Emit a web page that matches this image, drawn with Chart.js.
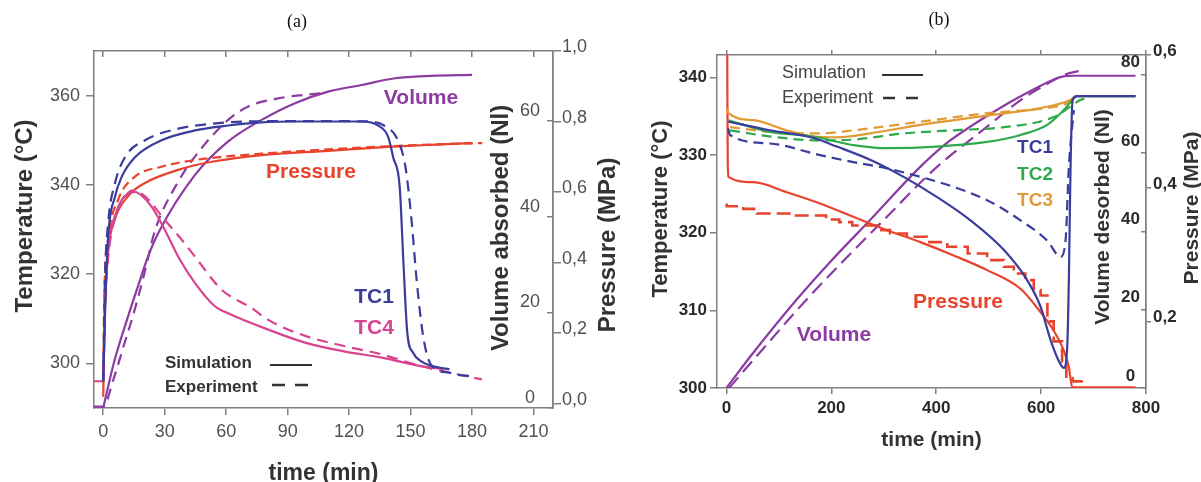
<!DOCTYPE html>
<html>
<head>
<meta charset="utf-8">
<script src="https://cdn.jsdelivr.net/npm/chart.js@4.4.1/dist/chart.umd.min.js"></script>
<style>
    html, body { margin: 0; padding: 0; background: #fff; }
    #wrap { position: relative; width: 1201px; height: 482px; overflow: hidden; }
    canvas { position: absolute; top: 0; }
    #chartA { left: 0; }
    #chartB { left: 625px; }
</style>
</head>
<body>
<div id="wrap">
    <canvas id="chartA" width="625" height="482"></canvas>
    <canvas id="chartB" width="576" height="482"></canvas>
</div>
<script>
// ---- (a) absorption: time in min, temperature in °C, volume in Nl, pressure in MPa
const aTimeTicks = [0, 30, 60, 90, 120, 150, 180, 210];
const aTempTicks = [300, 320, 340, 360];
const aVolTicks = [0, 20, 40, 60];
const aPresTicks = [0, 0.2, 0.4, 0.6, 0.8, 1.0];

const aTc1SimTime = [0, 1, 2.4, 5.7, 9, 15.5, 28.5, 44.8, 61, 77.3, 93.6, 110, 126, 134.2, 139.1, 141.5, 144.7, 146.6, 148.4, 151.2, 155, 160.6, 169];
const aTc1SimTemp = [296, 313, 328.4, 337.3, 341.8, 346.2, 350, 352.2, 353.3, 354, 354.2, 354.2, 354.2, 353.3, 350.7, 346.2, 339.5, 321.7, 306.8, 302.4, 300.5, 299.4, 298.7];
const aTc1ExpTime = [0, 0.8, 2.4, 5.7, 10.6, 20.4, 36.6, 52.9, 70, 100, 130, 137, 143.8, 147.5, 150.3, 153.1, 155.9, 158.7, 162.4, 169, 175, 181];
const aTc1ExpTemp = [296, 318, 331.4, 340.3, 346.2, 350, 352.6, 353.7, 354.2, 354.3, 354.2, 353.3, 350, 344, 332.9, 318, 306.8, 300.9, 298.7, 297.9, 297.3, 297.2];
const aTc4SimTime = [0, 1, 2.4, 5.7, 9, 12, 15.5, 19, 23.6, 30.1, 36.6, 44.8, 54.5, 62, 80.3, 98.9, 117.5, 136, 155, 166];
const aTc4SimTemp = [296, 315, 326, 333, 336.6, 338, 338.4, 337.5, 335.1, 329.9, 323.9, 318, 312.8, 311, 307.6, 304.6, 302.7, 301.3, 299.4, 298.7];
const aTc4ExpTime = [-4.5, 0, 0.8, 3, 6, 10, 14, 20, 30.1, 38.3, 44.8, 57.8, 72.4, 80.3, 98.9, 117.5, 136, 155, 173.6, 184.8];
const aTc4ExpTemp = [296, 296, 312, 326, 333, 336.8, 338.7, 337.6, 332.1, 327.7, 323.9, 316.5, 312.4, 309.8, 306.1, 303.9, 302, 299.4, 297.5, 296.4];
const aPresSimTime = [0, 0.4, 0.8, 2.4, 5.7, 12.2, 20.4, 36.6, 52.9, 77.3, 109.8, 139.1, 160, 180];
const aPresSimVal = [0.02, 0.15, 0.263, 0.43, 0.523, 0.589, 0.626, 0.663, 0.686, 0.705, 0.717, 0.728, 0.734, 0.739];
const aPresExpTime = [0, 0.5, 2.4, 7.3, 15.5, 28.5, 44.8, 77.3, 109.8, 139.1, 165, 185];
const aPresExpVal = [0.06, 0.3, 0.467, 0.579, 0.644, 0.672, 0.691, 0.709, 0.721, 0.73, 0.736, 0.739];
const aVolSimTime = [0, 5.3, 12.4, 17.4, 21.5, 26.8, 44.8, 61, 77.3, 93.6, 109.8, 126.1, 142.4, 160, 180];
const aVolSimVal = [0, 9.6, 19.5, 26, 31.2, 36.5, 48.7, 55.7, 60.2, 63.7, 66.1, 67.5, 68.9, 69.4, 69.6];
const aVolExpTime = [-4.5, 0, 5, 10, 15, 20, 25.2, 36.6, 48, 61, 70.8, 85.4, 106.6];
const aVolExpVal = [0.3, 0.3, 6, 13, 20, 28, 37, 47.3, 54.3, 60.2, 63, 64.7, 65.8];

// ---- (b) desorption
const bTimeTicks = [0, 200, 400, 600, 800];
const bTempTicks = [300, 310, 320, 330, 340];
const bVolTicks = [0, 20, 40, 60, 80];
const bPresTicks = [0.2, 0.4, 0.6];

const bTc1SimTime = [3.7, 83, 166, 210.6, 274, 337.8, 401.6, 465.3, 528.8, 573.4, 598.8, 617.9, 635, 643.3, 649.8, 652.9, 656, 660, 668, 780];
const bTc1SimTemp = [334.3, 333.2, 332.2, 331.1, 329.4, 327.2, 324.6, 321.6, 317.8, 313.9, 310.5, 306.2, 303.3, 302.6, 305.3, 313.9, 328, 337.1, 337.6, 337.6];
const bTc1ExpTime = [3, 6.9, 83, 178.7, 242, 306, 369.7, 433.3, 497, 560.6, 611.6, 637, 646.6, 652.9, 662.4];
const bTc1ExpTemp = [333.5, 332.6, 331.5, 330, 329.1, 328.3, 327.2, 325.9, 324.2, 321.6, 319, 316.9, 319, 328.5, 335.8];
const bTc2SimTime = [3.7, 83, 166, 242, 306, 401.6, 497, 560.6, 611.6, 643.3, 659.4, 668, 780];
const bTc2SimTemp = [334.5, 333, 332.4, 331.3, 330.9, 331.1, 331.7, 332.6, 333.9, 335.8, 337.1, 337.6, 337.6];
const bTc2ExpTime = [6.9, 83, 178.7, 242, 337.8, 433.3, 528.8, 624, 675, 683];
const bTc2ExpTemp = [333.2, 332.4, 331.9, 332, 332.8, 333.2, 333.6, 334.9, 337.1, 337.3];
const bTc3SimTime = [2, 3.7, 51.4, 115, 166, 210.6, 274, 369.7, 497, 592.5, 656, 668, 780];
const bTc3SimTemp = [336, 335.4, 334.5, 333.2, 332.4, 332.3, 332.8, 333.9, 335.1, 336, 337.1, 337.6, 337.6];
const bTc3ExpTime = [6.9, 83, 178.7, 242, 369.7, 497, 624, 662.4, 680];
const bTc3ExpTemp = [333.6, 333, 332.8, 333.2, 334.3, 335.4, 336.2, 336.9, 337.2];
const bPresSimTime = [0, 1.5, 2.5, 3.7, 51.4, 115, 178.7, 242, 306, 369.7, 433.3, 497, 560.6, 598.8, 624.2, 643.3, 652.9, 659.4, 780];
const bPresSimVal = [0.75, 0.6, 0.44, 0.417, 0.409, 0.394, 0.377, 0.357, 0.337, 0.319, 0.299, 0.277, 0.249, 0.214, 0.186, 0.156, 0.131, 0.101, 0.101];
const bPresExpTime = [0.5, 32, 58, 125, 190, 215, 240, 287, 312, 344, 382, 421, 460, 497, 529, 548, 570, 586, 599, 612, 624, 640, 648, 660, 670, 685];
const bPresExpVal = [0.377, 0.373, 0.369, 0.362, 0.359, 0.353, 0.349, 0.344, 0.337, 0.332, 0.327, 0.319, 0.312, 0.302, 0.292, 0.282, 0.272, 0.262, 0.247, 0.239, 0.2, 0.17, 0.14, 0.115, 0.11, 0.11];
const bVolSimTime = [0, 50, 134, 200, 274, 370, 420, 465, 510, 548, 590, 620, 645, 660, 780];
const bVolSimVal = [0, 8.8, 22.6, 32.5, 42.9, 56.5, 62.5, 66.7, 70.5, 73.5, 76.5, 78.5, 79.6, 79.7, 79.7];
const bVolExpTime = [5, 60, 153, 300, 402, 497, 561, 610, 645, 675];
const bVolExpVal = [0, 8.5, 22.6, 42.9, 56.5, 66.7, 73.5, 77.5, 80, 81];

const colors = {
    blue: '#3a3d9c',
    pink: '#d8438f',
    red: '#e8432c',
    purple: '#8c3ba2',
    green: '#2eaa4c',
    orange: '#e29a34',
    frame: '#808080',
};
const sans = "'Liberation Sans', Arial, sans-serif";
const serif = "'Liberation Serif', 'Times New Roman', serif";

const toPoints = (xs, ys) => xs.map((x, i) => ({ x, y: ys[i] }));
const comma = (v) => Number(v).toFixed(1).replace('.', ',');

const series = (label, xs, ys, color, axis, dash, extra = {}) => ({
    label,
    data: toPoints(xs, ys),
    borderColor: color,
    backgroundColor: color,
    borderWidth: 2.2,
    borderDash: dash || [],
    pointRadius: 0,
    fill: false,
    yAxisID: axis,
    cubicInterpolationMode: 'monotone',
    ...extra,
});

const fixTicks = (values) => (scale) => {
    scale.ticks = values.map((value) => ({ value }));
};

// free text: axis titles read bottom-to-top, series names and the small legend
const textPlugin = {
    id: 'texts',
    afterDraw(chart, args, opts) {
        const ctx = chart.ctx;
        ctx.save();
        (opts.lines || []).forEach((l) => {
            ctx.beginPath();
            ctx.setLineDash(l.dash || []);
            ctx.strokeStyle = l.color;
            ctx.lineWidth = l.width;
            ctx.moveTo(l.x1, l.y);
            ctx.lineTo(l.x2, l.y);
            ctx.stroke();
        });
        ctx.setLineDash([]);
        (opts.labels || []).forEach((t) => {
            ctx.save();
            ctx.translate(t.x, t.y);
            ctx.rotate(t.rotate || 0);
            ctx.font = t.font;
            ctx.fillStyle = t.color;
            ctx.textAlign = t.align || 'center';
            ctx.textBaseline = 'middle';
            ctx.fillText(t.text, 0, 0);
            ctx.restore();
        });
        ctx.restore();
    },
};

const gridTicks = (len) => ({
    display: true,
    drawOnChartArea: false,
    drawTicks: true,
    tickLength: len,
    color: colors.frame,
    lineWidth: 1.5,
});
const frameBorder = { display: true, color: colors.frame, width: 1.5 };
const up = -Math.PI / 2;

// ---------- chart (a)
const dashA = [11, 7];
new Chart(document.getElementById('chartA'), {
    type: 'line',
    data: {
        datasets: [
            series('TC1 sim', aTc1SimTime, aTc1SimTemp, colors.blue, 'temp'),
            series('TC1 exp', aTc1ExpTime, aTc1ExpTemp, colors.blue, 'temp', dashA),
            series('TC4 sim', aTc4SimTime, aTc4SimTemp, colors.pink, 'temp'),
            series('TC4 exp', aTc4ExpTime, aTc4ExpTemp, colors.pink, 'temp', dashA),
            series('Pressure sim', aPresSimTime, aPresSimVal, colors.red, 'pres'),
            series('Pressure exp', aPresExpTime, aPresExpVal, colors.red, 'pres', [9, 5]),
            series('Volume sim', aVolSimTime, aVolSimVal, colors.purple, 'vol'),
            series('Volume exp', aVolExpTime, aVolExpVal, colors.purple, 'vol', dashA),
        ],
    },
    options: {
        responsive: false,
        animation: false,
        devicePixelRatio: 1,
        layout: { padding: { top: 51, left: 0, right: 0, bottom: 0 } },
        plugins: {
            legend: { display: false },
            tooltip: { enabled: false },
            texts: {
                lines: [
                    { x1: 270, x2: 312, y: 365, color: '#333', width: 2 },
                    { x1: 272, x2: 310, y: 385, color: '#333', width: 2.5, dash: [13, 10] },
                ],
                labels: [
                    { text: '(a)', x: 297, y: 22, font: `18px ${serif}`, color: '#111' },
                    { text: 'Volume', x: 421, y: 98, font: `bold 21px ${sans}`, color: colors.purple },
                    { text: 'Pressure', x: 311, y: 172, font: `bold 21px ${sans}`, color: colors.red },
                    { text: 'TC1', x: 374, y: 297, font: `bold 21px ${sans}`, color: colors.blue },
                    { text: 'TC4', x: 374, y: 328, font: `bold 21px ${sans}`, color: colors.pink },
                    { text: 'Simulation', x: 165, y: 363, align: 'left', font: `bold 17px ${sans}`, color: '#333' },
                    { text: 'Experiment', x: 165, y: 387, align: 'left', font: `bold 17px ${sans}`, color: '#333' },
                    { text: 'Temperature (°C)', x: 25, y: 216, rotate: up, font: `bold 24px ${sans}`, color: '#333' },
                    { text: 'Volume absorbed (Nl)', x: 501, y: 228, rotate: up, font: `bold 24px ${sans}`, color: '#333' },
                    { text: 'Pressure (MPa)', x: 608, y: 245, rotate: up, font: `bold 24px ${sans}`, color: '#333' },
                ],
            },
        },
        scales: {
            x: {
                type: 'linear',
                position: 'bottom',
                min: -4.5,
                max: 219.5,
                afterBuildTicks: fixTicks(aTimeTicks),
                afterFit: (s) => { s.height = 74; },
                ticks: { font: { size: 18, family: sans }, color: '#505050', padding: 6, autoSkip: false, maxRotation: 0 },
                grid: gridTicks(7),
                border: frameBorder,
                title: {
                    display: true,
                    text: 'time (min)',
                    font: { size: 23, weight: 'bold', family: sans },
                    color: '#333',
                    padding: { top: 0, bottom: -5 },
                },
            },
            xTop: {
                type: 'linear',
                position: 'top',
                min: -4.5,
                max: 219.5,
                afterBuildTicks: fixTicks(aTimeTicks),
                afterFit: (s) => { s.height = 0; },
                ticks: { display: false },
                grid: gridTicks(-6),
                border: frameBorder,
            },
            temp: {
                type: 'linear',
                position: 'left',
                min: 290,
                max: 370,
                afterBuildTicks: fixTicks(aTempTicks),
                afterFit: (s) => { s.width = 94; },
                ticks: { font: { size: 18, family: sans }, color: '#505050', padding: 6 },
                grid: gridTicks(8),
                border: frameBorder,
            },
            vol: {
                type: 'linear',
                position: 'right',
                weight: 0,
                min: 0,
                max: 74.6,
                afterBuildTicks: fixTicks(aVolTicks),
                afterFit: (s) => { s.width = 0; },
                ticks: {
                    mirror: true,
                    crossAlign: 'center',
                    padding: -13,
                    labelOffset: -10,
                    font: { size: 18, family: sans },
                    color: '#505050',
                },
                grid: gridTicks(-6),
                border: frameBorder,
            },
            pres: {
                type: 'linear',
                position: 'right',
                weight: 1,
                min: -0.012,
                max: 1.0,
                afterBuildTicks: fixTicks(aPresTicks),
                afterFit: (s) => { s.width = 72; },
                ticks: {
                    padding: 1,
                    labelOffset: -4,
                    font: { size: 18, family: sans },
                    color: '#505050',
                    callback: comma,
                },
                grid: gridTicks(8),
                border: frameBorder,
            },
        },
    },
    plugins: [textPlugin],
});

// ---------- chart (b), canvas starts at x = 625
const dashB = [10, 6];
new Chart(document.getElementById('chartB'), {
    type: 'line',
    data: {
        datasets: [
            series('TC1 sim', bTc1SimTime, bTc1SimTemp, colors.blue, 'temp'),
            series('TC1 exp', bTc1ExpTime, bTc1ExpTemp, colors.blue, 'temp', dashB),
            series('TC2 sim', bTc2SimTime, bTc2SimTemp, colors.green, 'temp'),
            series('TC2 exp', bTc2ExpTime, bTc2ExpTemp, colors.green, 'temp', dashB),
            series('TC3 sim', bTc3SimTime, bTc3SimTemp, colors.orange, 'temp'),
            series('TC3 exp', bTc3ExpTime, bTc3ExpTemp, colors.orange, 'temp', dashB),
            series('Pressure sim', bPresSimTime, bPresSimVal, colors.red, 'pres'),
            series('Pressure exp', bPresExpTime, bPresExpVal, colors.red, 'pres', [14, 6], { stepped: 'after', borderWidth: 2.6 }),
            series('Volume sim', bVolSimTime, bVolSimVal, colors.purple, 'vol'),
            series('Volume exp', bVolExpTime, bVolExpVal, colors.purple, 'vol', [14, 7]),
        ],
    },
    options: {
        responsive: false,
        animation: false,
        devicePixelRatio: 1,
        layout: { padding: { top: 55, left: 0, right: 0, bottom: 0 } },
        plugins: {
            legend: { display: false },
            tooltip: { enabled: false },
            texts: {
                lines: [
                    { x1: 257, x2: 298, y: 75, color: '#333', width: 2 },
                    { x1: 258, x2: 294, y: 98, color: '#333', width: 2.5, dash: [12, 11] },
                ],
                labels: [
                    { text: '(b)', x: 314, y: 20, font: `18px ${serif}`, color: '#111' },
                    { text: 'Simulation', x: 157, y: 73, align: 'left', font: `18px ${sans}`, color: '#444' },
                    { text: 'Experiment', x: 157, y: 98, align: 'left', font: `18px ${sans}`, color: '#444' },
                    { text: 'TC1', x: 410, y: 148, font: `bold 19px ${sans}`, color: colors.blue },
                    { text: 'TC2', x: 410, y: 175, font: `bold 19px ${sans}`, color: colors.green },
                    { text: 'TC3', x: 410, y: 201, font: `bold 19px ${sans}`, color: colors.orange },
                    { text: 'Pressure', x: 333, y: 302, font: `bold 21px ${sans}`, color: colors.red },
                    { text: 'Volume', x: 209, y: 335, font: `bold 21px ${sans}`, color: colors.purple },
                    { text: 'Temperature (°C)', x: 36, y: 209, rotate: up, font: `bold 22px ${sans}`, color: '#333' },
                    { text: 'Volume desorbed (Nl)', x: 478, y: 217, rotate: up, font: `bold 21px ${sans}`, color: '#333' },
                    { text: 'Pressure (MPa)', x: 567, y: 208, rotate: up, font: `bold 21px ${sans}`, color: '#333' },
                ],
            },
        },
        scales: {
            x: {
                type: 'linear',
                position: 'bottom',
                min: -18,
                max: 800,
                afterBuildTicks: fixTicks(bTimeTicks),
                afterFit: (s) => { s.height = 94; },
                ticks: { font: { size: 17, weight: 'bold', family: sans }, color: '#2a2a2a', padding: 4, autoSkip: false, maxRotation: 0 },
                grid: gridTicks(6),
                border: frameBorder,
                title: {
                    display: true,
                    text: 'time (min)',
                    font: { size: 21, weight: 'bold', family: sans },
                    color: '#333',
                    padding: { top: 0, bottom: 29 },
                },
            },
            xTop: {
                type: 'linear',
                position: 'top',
                min: -18,
                max: 800,
                afterBuildTicks: fixTicks(bTimeTicks),
                afterFit: (s) => { s.height = 0; },
                ticks: { display: false },
                grid: gridTicks(5),
                border: frameBorder,
            },
            temp: {
                type: 'linear',
                position: 'left',
                min: 300,
                max: 342.9,
                afterBuildTicks: fixTicks(bTempTicks),
                afterFit: (s) => { s.width = 92; },
                ticks: { font: { size: 17, weight: 'bold', family: sans }, color: '#2a2a2a', padding: 3 },
                grid: gridTicks(7),
                border: frameBorder,
            },
            vol: {
                type: 'linear',
                position: 'right',
                weight: 0,
                min: 0,
                max: 85,
                afterBuildTicks: fixTicks(bVolTicks),
                afterFit: (s) => { s.width = 0; },
                ticks: {
                    mirror: true,
                    crossAlign: 'center',
                    padding: -6,
                    labelOffset: -12,
                    font: { size: 17, weight: 'bold', family: sans },
                    color: '#2a2a2a',
                },
                grid: gridTicks(-5),
                border: frameBorder,
            },
            pres: {
                type: 'linear',
                position: 'right',
                weight: 1,
                min: 0.1,
                max: 0.6,
                afterBuildTicks: fixTicks(bPresTicks),
                afterFit: (s) => { s.width = 55; },
                ticks: {
                    padding: 2,
                    labelOffset: -4,
                    font: { size: 17, weight: 'bold', family: sans },
                    color: '#2a2a2a',
                    callback: comma,
                },
                grid: gridTicks(5),
                border: frameBorder,
            },
        },
    },
    plugins: [textPlugin],
});
</script>
</body>
</html>
